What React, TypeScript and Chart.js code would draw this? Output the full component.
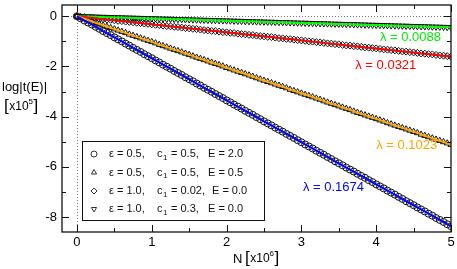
import React, { useEffect, useRef } from "react";
import { Chart, registerables } from "chart.js";
import { drawPoint } from "chart.js/helpers";

Chart.register(...registerables);

// N [x10^6]
const N = [
  0, 0.05, 0.1, 0.15, 0.2, 0.25, 0.3, 0.35, 0.4, 0.45, 0.5, 0.55, 0.6, 0.65, 0.7, 0.75, 0.8, 0.85, 0.9, 0.95,
  1, 1.05, 1.1, 1.15, 1.2, 1.25, 1.3, 1.35, 1.4, 1.45, 1.5, 1.55, 1.6, 1.65, 1.7, 1.75, 1.8, 1.85, 1.9, 1.95,
  2, 2.05, 2.1, 2.15, 2.2, 2.25, 2.3, 2.35, 2.4, 2.45, 2.5, 2.55, 2.6, 2.65, 2.7, 2.75, 2.8, 2.85, 2.9, 2.95,
  3, 3.05, 3.1, 3.15, 3.2, 3.25, 3.3, 3.35, 3.4, 3.45, 3.5, 3.55, 3.6, 3.65, 3.7, 3.75, 3.8, 3.85, 3.9, 3.95,
  4, 4.05, 4.1, 4.15, 4.2, 4.25, 4.3, 4.35, 4.4, 4.45, 4.5, 4.55, 4.6, 4.65, 4.7, 4.75, 4.8, 4.85, 4.9, 4.95,
  5,
];

// log|t(E)| [x10^5], circles (lambda = 0.1674)
const seriesCircle = [
  0, -0.08, -0.17, -0.25, -0.33, -0.42, -0.5, -0.59, -0.67, -0.75,
  -0.84, -0.92, -1.0, -1.09, -1.17, -1.26, -1.34, -1.42, -1.51, -1.59,
  -1.67, -1.76, -1.84, -1.93, -2.01, -2.09, -2.18, -2.26, -2.34, -2.43,
  -2.51, -2.59, -2.68, -2.76, -2.85, -2.93, -3.01, -3.1, -3.18, -3.26,
  -3.35, -3.43, -3.52, -3.6, -3.68, -3.77, -3.85, -3.93, -4.02, -4.1,
  -4.19, -4.27, -4.35, -4.44, -4.52, -4.6, -4.69, -4.77, -4.85, -4.94,
  -5.02, -5.11, -5.19, -5.27, -5.36, -5.44, -5.52, -5.61, -5.69, -5.78,
  -5.86, -5.94, -6.03, -6.11, -6.19, -6.28, -6.36, -6.44, -6.53, -6.61,
  -6.7, -6.78, -6.86, -6.95, -7.03, -7.11, -7.2, -7.28, -7.37, -7.45,
  -7.53, -7.62, -7.7, -7.78, -7.87, -7.95, -8.04, -8.12, -8.2, -8.29,
  -8.37,
];

// triangles up (lambda = 0.1023)
const seriesTriUp = [
  0, -0.05, -0.1, -0.15, -0.2, -0.26, -0.31, -0.36, -0.41, -0.46,
  -0.51, -0.56, -0.61, -0.66, -0.72, -0.77, -0.82, -0.87, -0.92, -0.97,
  -1.02, -1.07, -1.13, -1.18, -1.23, -1.28, -1.33, -1.38, -1.43, -1.48,
  -1.53, -1.59, -1.64, -1.69, -1.74, -1.79, -1.84, -1.89, -1.94, -1.99,
  -2.05, -2.1, -2.15, -2.2, -2.25, -2.3, -2.35, -2.4, -2.46, -2.51,
  -2.56, -2.61, -2.66, -2.71, -2.76, -2.81, -2.86, -2.92, -2.97, -3.02,
  -3.07, -3.12, -3.17, -3.22, -3.27, -3.32, -3.38, -3.43, -3.48, -3.53,
  -3.58, -3.63, -3.68, -3.73, -3.79, -3.84, -3.89, -3.94, -3.99, -4.04,
  -4.09, -4.14, -4.19, -4.25, -4.3, -4.35, -4.4, -4.45, -4.5, -4.55,
  -4.6, -4.65, -4.71, -4.76, -4.81, -4.86, -4.91, -4.96, -5.01, -5.06,
  -5.12,
];

// diamonds (lambda = 0.0321)
const seriesDiamond = [
  0, -0.02, -0.03, -0.05, -0.06, -0.08, -0.1, -0.11, -0.13, -0.14,
  -0.16, -0.18, -0.19, -0.21, -0.22, -0.24, -0.26, -0.27, -0.29, -0.3,
  -0.32, -0.34, -0.35, -0.37, -0.39, -0.4, -0.42, -0.43, -0.45, -0.47,
  -0.48, -0.5, -0.51, -0.53, -0.55, -0.56, -0.58, -0.59, -0.61, -0.63,
  -0.64, -0.66, -0.67, -0.69, -0.71, -0.72, -0.74, -0.75, -0.77, -0.79,
  -0.8, -0.82, -0.83, -0.85, -0.87, -0.88, -0.9, -0.91, -0.93, -0.95,
  -0.96, -0.98, -1.0, -1.01, -1.03, -1.04, -1.06, -1.08, -1.09, -1.11,
  -1.12, -1.14, -1.16, -1.17, -1.19, -1.2, -1.22, -1.24, -1.25, -1.27,
  -1.28, -1.3, -1.32, -1.33, -1.35, -1.36, -1.38, -1.4, -1.41, -1.43,
  -1.44, -1.46, -1.48, -1.49, -1.51, -1.52, -1.54, -1.56, -1.57, -1.59,
  -1.61,
];

// triangles down (lambda = 0.0088)
const seriesTriDown = [
  0, -0.004, -0.009, -0.013, -0.018, -0.022, -0.026, -0.031, -0.035, -0.04,
  -0.044, -0.048, -0.053, -0.057, -0.062, -0.066, -0.07, -0.075, -0.079, -0.084,
  -0.088, -0.092, -0.097, -0.101, -0.106, -0.11, -0.114, -0.119, -0.123, -0.128,
  -0.132, -0.136, -0.141, -0.145, -0.15, -0.154, -0.158, -0.163, -0.167, -0.172,
  -0.176, -0.18, -0.185, -0.189, -0.194, -0.198, -0.202, -0.207, -0.211, -0.216,
  -0.22, -0.224, -0.229, -0.233, -0.238, -0.242, -0.246, -0.251, -0.255, -0.26,
  -0.264, -0.268, -0.273, -0.277, -0.282, -0.286, -0.29, -0.295, -0.299, -0.304,
  -0.308, -0.312, -0.317, -0.321, -0.326, -0.33, -0.334, -0.339, -0.343, -0.348,
  -0.352, -0.356, -0.361, -0.365, -0.37, -0.374, -0.378, -0.383, -0.387, -0.392,
  -0.396, -0.4, -0.405, -0.409, -0.414, -0.418, -0.422, -0.427, -0.431, -0.436,
  -0.44,
];

const X_MAJOR = [0, 1, 2, 3, 4, 5];
const X_MINOR = [0.5, 1.5, 2.5, 3.5, 4.5];
const Y_MAJOR = [-8, -6, -4, -2, 0];
const Y_MINOR = [-7, -5, -3, -1];

const LAMBDA_LABELS = ["λ = 0.0088", "λ = 0.0321", "λ = 0.1023", "λ = 0.1674"];
const LAMBDA_COLORS = ["#00ee00", "#ff0000", "#ffa500", "#0000ff"];
const LAMBDA_POS_X = [4.05, 3.72, 4.0, 3.02];
const LAMBDA_POS_Y = [-0.84, -1.94, -5.15, -6.84];

const LEGEND_EPS = ["ε = 0.5,", "ε = 0.5,", "ε = 1.0,", "ε = 1.0,"];
const LEGEND_C1 = ["0.5,", "0.5,", "0.02,", "0.3,"];
const LEGEND_E = ["E = 2.0", "E = 0.5", "E = 0.0", "E = 0.0"];
const LEGEND_STYLE = ["circle", "triangle", "rectRot", "triangle"];
const LEGEND_ROT = [0, 0, 0, 180];

const FONT = "'Liberation Sans', Arial, Helvetica, sans-serif";

const pts = (xs: number[], ys: number[]) => xs.map((x, i) => ({ x, y: ys[i] }));

const decor = {
  id: "decor",
  beforeDatasetsDraw(chart: any) {
    const { ctx, chartArea: a, scales } = chart;
    const x0 = Math.round(scales.x.getPixelForValue(0)) + 0.5;
    const y0 = Math.round(scales.y.getPixelForValue(0)) + 0.5;
    ctx.save();
    ctx.strokeStyle = "#777";
    ctx.lineWidth = 1;
    ctx.setLineDash([1, 2]);
    ctx.beginPath();
    ctx.moveTo(x0, a.top);
    ctx.lineTo(x0, a.bottom);
    ctx.moveTo(a.left, y0);
    ctx.lineTo(a.right, y0);
    ctx.stroke();
    ctx.restore();
  },
  afterDatasetsDraw(chart: any) {
    const { ctx, chartArea: a, scales } = chart;
    ctx.save();
    // frame
    ctx.strokeStyle = "#111";
    ctx.lineWidth = 1.3;
    ctx.strokeRect(a.left, a.top, a.right - a.left, a.bottom - a.top);
    // ticks
    ctx.lineWidth = 1;
    ctx.beginPath();
    const xt = (v: number, len: number) => {
      const px = Math.round(scales.x.getPixelForValue(v)) + 0.5;
      ctx.moveTo(px, a.bottom);
      ctx.lineTo(px, a.bottom - len);
      ctx.moveTo(px, a.top);
      ctx.lineTo(px, a.top + len);
    };
    const yt = (v: number, len: number) => {
      const py = Math.round(scales.y.getPixelForValue(v)) + 0.5;
      ctx.moveTo(a.left, py);
      ctx.lineTo(a.left + len, py);
      ctx.moveTo(a.right, py);
      ctx.lineTo(a.right - len, py);
    };
    X_MAJOR.forEach((v) => xt(v, 7));
    X_MINOR.forEach((v) => xt(v, 4));
    Y_MAJOR.forEach((v) => yt(v, 7));
    Y_MINOR.forEach((v) => yt(v, 4));
    ctx.stroke();

    // lambda annotations
    ctx.font = `13px ${FONT}`;
    ctx.textBaseline = "middle";
    ctx.textAlign = "left";
    LAMBDA_LABELS.forEach((t, i) => {
      ctx.fillStyle = LAMBDA_COLORS[i];
      ctx.fillText(t, scales.x.getPixelForValue(LAMBDA_POS_X[i]), scales.y.getPixelForValue(LAMBDA_POS_Y[i]));
    });

    // legend box
    const bx = 82, by = 141, bw = 182, bh = 79;
    ctx.fillStyle = "#fff";
    ctx.fillRect(bx, by, bw, bh);
    ctx.strokeStyle = "#111";
    ctx.lineWidth = 1;
    ctx.strokeRect(bx + 0.5, by + 0.5, bw, bh);
    const rowY = [154, 172.5, 191, 209];
    LEGEND_EPS.forEach((eps, i) => {
      const y = rowY[i];
      ctx.fillStyle = "rgba(0,0,0,0)";
      ctx.strokeStyle = "#333";
      ctx.lineWidth = 1;
      drawPoint(ctx, { pointStyle: LEGEND_STYLE[i], radius: 3, rotation: LEGEND_ROT[i], borderWidth: 1 } as any, 94, y);
      ctx.fillStyle = "#111";
      ctx.font = `11px ${FONT}`;
      ctx.textBaseline = "middle";
      ctx.fillText(eps, 109, y);
      ctx.fillText("c", 157, y);
      const cw = ctx.measureText("c").width;
      ctx.font = `8px ${FONT}`;
      ctx.fillText("1", 157 + cw + 0.5, y + 3.5);
      const sw = ctx.measureText("1").width;
      ctx.font = `11px ${FONT}`;
      ctx.fillText(" = " + LEGEND_C1[i], 157 + cw + sw + 1, y);
      ctx.fillText(LEGEND_E[i], i === 2 ? 212 : 208, y);
    });
    ctx.restore();
  },
  afterDraw(chart: any) {
    const { ctx } = chart;
    ctx.save();
    ctx.fillStyle = "#000";
    ctx.textBaseline = "middle";
    ctx.textAlign = "left";
    ctx.font = `13px ${FONT}`;
    ctx.fillText("log|t(E)|", 2, 87);

    const bracketUnit = (x: number, y: number, exp: string) => {
      let cx = x;
      ctx.font = `17px ${FONT}`;
      ctx.fillText("[", cx, y);
      cx += ctx.measureText("[").width + 0.5;
      ctx.font = `12px ${FONT}`;
      ctx.fillText("x10", cx, y + 1);
      cx += ctx.measureText("x10").width;
      ctx.font = `8px ${FONT}`;
      ctx.fillText(exp, cx, y - 4);
      cx += ctx.measureText(exp).width + 0.5;
      ctx.font = `17px ${FONT}`;
      ctx.fillText("]", cx, y);
    };
    bracketUnit(4, 106, "5");

    ctx.font = `13px ${FONT}`;
    ctx.fillText("N", 233, 259);
    bracketUnit(245, 258, "6");
    ctx.restore();
  },
};

export default function App() {
  const ref = useRef<HTMLCanvasElement | null>(null);
  useEffect(() => {
    document.body.style.margin = "0";
    const canvas = ref.current;
    if (!canvas) return;
    const lineDs = (ys: number[], color: string, order: number) => ({
      data: pts(N, ys),
      showLine: true,
      borderColor: color,
      borderWidth: 2,
      pointRadius: 0,
      fill: false,
      order,
    });
    const markDs = (ys: number[], style: string, rot: number, order: number) => ({
      data: pts(N, ys),
      showLine: false,
      pointStyle: style,
      pointRotation: rot,
      pointRadius: 3.5,
      pointBorderWidth: 1,
      pointBorderColor: "#111",
      pointBackgroundColor: "rgba(255,255,255,0)",
      order,
    });
    const chart = new Chart(canvas, {
      type: "scatter",
      data: {
        datasets: [
          lineDs(seriesCircle, "#0000ff", 0),
          lineDs(seriesTriUp, "#ffa500", 0),
          lineDs(seriesDiamond, "#ff0000", 0),
          lineDs(seriesTriDown, "#00ff00", 0),
          markDs(seriesCircle, "circle", 0, 1),
          markDs(seriesTriUp, "triangle", 0, 1),
          markDs(seriesDiamond, "rectRot", 0, 1),
          markDs(seriesTriDown, "triangle", 180, 1),
        ] as any,
      },
      options: {
        responsive: false,
        animation: false,
        events: [],
        layout: { padding: { top: 1, right: 6, left: 0, bottom: 0 } },
        plugins: { legend: { display: false }, tooltip: { enabled: false } },
        scales: {
          x: {
            type: "linear",
            min: -0.2,
            max: 5,
            grid: { display: false, drawTicks: false },
            border: { display: false },
            afterBuildTicks: (s: any) => {
              s.ticks = X_MAJOR.map((v) => ({ value: v }));
            },
            afterFit: (s: any) => {
              s.height = 37;
              s.paddingLeft = 0;
              s.paddingRight = 0;
            },
            ticks: {
              padding: 3,
              color: "#000",
              font: { family: FONT, size: 13 },
              maxRotation: 0,
              callback: (v: any) => String(v),
            },
          },
          y: {
            type: "linear",
            min: -8.6,
            max: 0.45,
            grid: { display: false, drawTicks: false },
            border: { display: false },
            afterBuildTicks: (s: any) => {
              s.ticks = Y_MAJOR.map((v) => ({ value: v }));
            },
            afterFit: (s: any) => {
              s.width = 62;
              s.paddingTop = 0;
              s.paddingBottom = 0;
            },
            ticks: {
              padding: 5,
              color: "#000",
              font: { family: FONT, size: 13 },
              callback: (v: any) => String(v),
            },
          },
        },
      },
      plugins: [decor],
    });
    return () => chart.destroy();
  }, []);
  return <canvas ref={ref} width={457} height={269} style={{ display: "block" }} />;
}
